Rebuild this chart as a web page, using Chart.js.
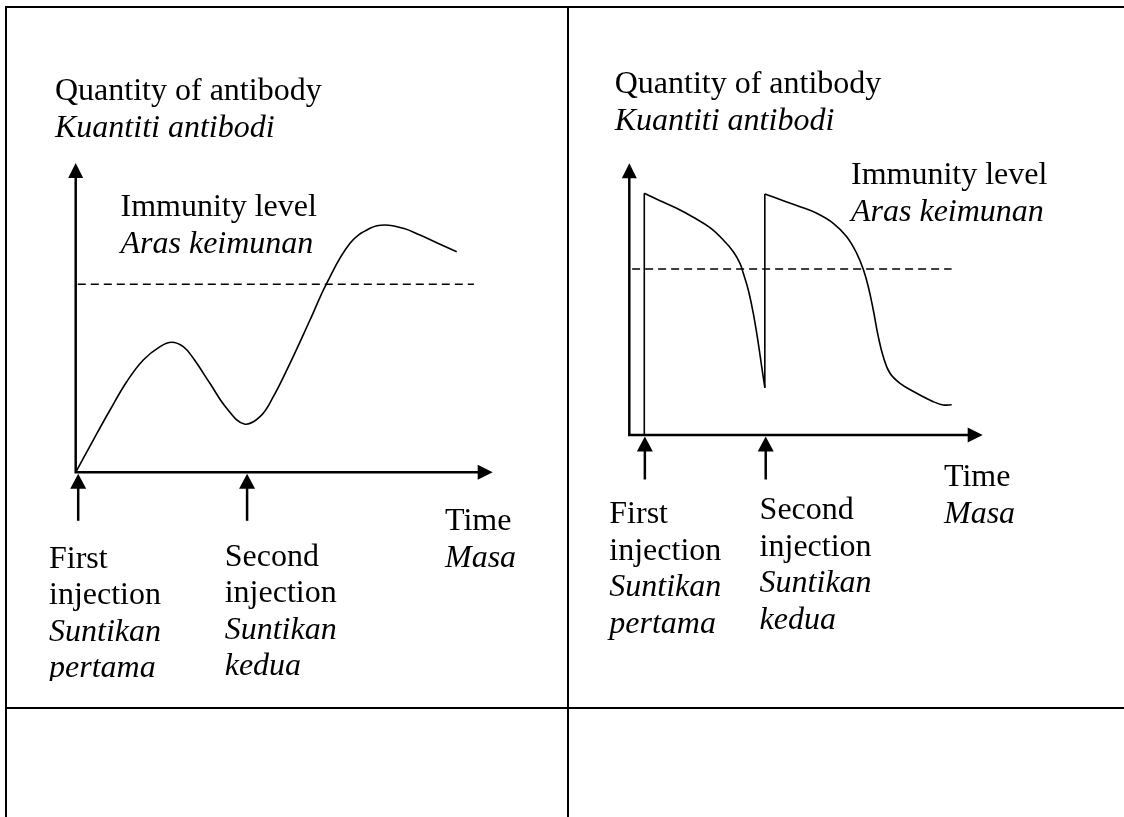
<!DOCTYPE html>
<html>
<head>
<meta charset="utf-8">
<title>Antibody response</title>
<script src="https://cdn.jsdelivr.net/npm/chart.js@4.4.1/dist/chart.umd.min.js"></script>
<style>
  html, body { margin: 0; padding: 0; background: #fff; }
  body { width: 1124px; height: 817px; position: relative; overflow: hidden;
         font-family: "Liberation Serif", "Times New Roman", serif; color: #000; }
  .rule { position: absolute; background: #000; }
  .panel { position: absolute; top: 0; overflow: hidden; }
  .panel canvas { position: absolute; left: 0; top: 0; }
  .lbl { position: absolute; font-size: 32px; line-height: 36.5px; white-space: nowrap; }
  .lbl .it { font-style: italic; }
</style>
</head>
<body>
<div class="panel" id="leftPanel" style="left:0;width:567px;height:681px;">
  <canvas id="leftChart" width="567" height="681"></canvas>
</div>
<div class="panel" id="rightPanel" style="left:568px;width:556px;height:707px;">
  <canvas id="rightChart" width="556" height="700"></canvas>
</div>
<div class="rule" style="left:5px;top:6px;width:1119px;height:2px;"></div>
<div class="rule" style="left:5px;top:6px;width:2px;height:811px;"></div>
<div class="rule" style="left:567px;top:6px;width:2px;height:811px;"></div>
<div class="rule" style="left:5px;top:707px;width:1119px;height:2px;"></div>

<script>
// ---------- text ----------
const yAxisLabel = ["Quantity of antibody", "Kuantiti antibodi"];
const immunityLabel = ["Immunity level", "Aras keimunan"];
const xAxisLabel = ["Time", "Masa"];
const firstInjectionLabel = ["First", "injection", "Suntikan", "pertama"];
const secondInjectionLabel = ["Second", "injection", "Suntikan", "kedua"];

// ---------- left graph (time 0-100, antibody 0-100) ----------
const leftTime     = [0, 4.22, 8.23, 12.23, 16.21, 20.22, 23.02, 25.80, 28.20, 32.18, 36.21, 40.43,
                      44.20, 47.39, 51.39, 56.19, 60.19, 65.78, 70.58, 74.17, 78.56, 82.57, 86.57, 91.37];
const leftAntibody = [0, 10.44, 20.14, 29.29, 36.31, 40.61, 42.03, 40.61, 36.86, 28.77, 20.69, 15.62,
                      17.98, 24.44, 35.24, 49.24, 61.11, 74.04, 78.89, 79.95, 78.89, 76.72, 74.23, 71.32];
const leftImmunityLevel = 60.8;
const leftImmunitySpan = [0.5, 95.5];
const leftInjections = [0.6, 41.1];

// ---------- right graph ----------
const rightTime1     = [4.24, 8.69, 13.41, 18.11, 22.84, 26.60, 29.43, 31.32, 32.26, 33.67, 35.09, 36.50, 37.46, 38.35];
const rightAntibody1 = [88.96, 86.24, 83.44, 80.13, 76.30, 71.77, 67.46, 63.19, 59.51, 53.37, 44.79, 33.75, 25.14, 17.41];
const rightTime2     = [38.35, 43.58, 48.30, 53.03, 57.72, 61.52, 64.35, 66.21, 67.63, 69.04, 70.46, 71.87,
                        73.77, 76.60, 81.32, 86.02, 88.85, 91.23];
const rightAntibody2 = [88.70, 86.24, 84.03, 81.60, 77.92, 72.99, 66.88, 60.99, 54.58, 46.01, 36.18, 28.82,
                        22.71, 19.03, 15.35, 12.26, 11.04, 11.15];
const rightImmunityLevel = 61.1;
const rightImmunitySpan = [0.8, 91.2];
const rightInjections = [4.4, 38.6];

// ---------- helpers ----------
const zip = (xs, ys) => xs.map((x, i) => ({ x: x, y: ys[i] }));

function curveSet(points) {
  return { data: points, borderColor: '#000', borderWidth: 1.6, fill: false,
           tension: 0.4, pointRadius: 0, clip: false };
}
function straightSet(points) {
  return { data: points, borderColor: '#000', borderWidth: 1.6, fill: false,
           tension: 0, pointRadius: 0, clip: false };
}
function dashedSet(level, span) {
  return { data: [{ x: span[0], y: level }, { x: span[1], y: level }],
           borderColor: '#000', borderWidth: 1.5, borderDash: [8, 5], fill: false,
           tension: 0, pointRadius: 0, clip: false };
}

function axesPlugin(injections, tail) {
  return {
    id: 'axesArrows',
    afterDatasetsDraw(chart) {
      const ctx = chart.ctx;
      const a = chart.chartArea;
      const head = 15, half = 7.5;
      ctx.save();
      ctx.strokeStyle = '#000';
      ctx.fillStyle = '#000';
      ctx.lineWidth = 2.5;
      ctx.lineCap = 'butt';
      ctx.beginPath();
      ctx.moveTo(a.left, a.top + head - 1);
      ctx.lineTo(a.left, a.bottom + 1.25);
      ctx.moveTo(a.left - 1.25, a.bottom);
      ctx.lineTo(a.right - head + 1, a.bottom);
      ctx.stroke();
      ctx.beginPath();
      ctx.moveTo(a.left, a.top);
      ctx.lineTo(a.left - half, a.top + head);
      ctx.lineTo(a.left + half, a.top + head);
      ctx.closePath();
      ctx.fill();
      ctx.beginPath();
      ctx.moveTo(a.right, a.bottom);
      ctx.lineTo(a.right - head, a.bottom - half);
      ctx.lineTo(a.right - head, a.bottom + half);
      ctx.closePath();
      ctx.fill();
      injections.forEach(t => {
        const x = chart.scales.x.getPixelForValue(t);
        const tip = a.bottom + 1.5;
        ctx.beginPath();
        ctx.moveTo(x, tip + head - 1);
        ctx.lineTo(x, tip + tail);
        ctx.stroke();
        ctx.beginPath();
        ctx.moveTo(x, tip);
        ctx.lineTo(x - 8, tip + head);
        ctx.lineTo(x + 8, tip + head);
        ctx.closePath();
        ctx.fill();
      });
      ctx.restore();
    }
  };
}

function makeChart(id, padding, datasets, injections, tail) {
  return new Chart(document.getElementById(id), {
    type: 'line',
    data: { datasets: datasets },
    options: {
      responsive: false,
      animation: false,
      events: [],
      layout: { padding: padding },
      plugins: { legend: { display: false }, tooltip: { enabled: false }, title: { display: false } },
      scales: {
        x: { type: 'linear', min: 0, max: 100, display: false },
        y: { type: 'linear', min: 0, max: 100, display: false }
      },
      elements: { point: { radius: 0 }, line: { capBezierPoints: false } }
    },
    plugins: [axesPlugin(injections, tail)]
  });
}

makeChart('leftChart',
  { left: 75.7, right: 567 - 492.7, top: 163, bottom: 681 - 472.3 },
  [ curveSet(zip(leftTime, leftAntibody)),
    dashedSet(leftImmunityLevel, leftImmunitySpan) ],
  leftInjections, 47);

const r1 = zip(rightTime1, rightAntibody1);
const r2 = zip(rightTime2, rightAntibody2);
makeChart('rightChart',
  { left: 629.3 - 568, right: 556 - (982.7 - 568), top: 163.3, bottom: 700 - 435 },
  [ straightSet([{ x: r1[0].x, y: 0 }, r1[0]]),
    curveSet(r1),
    straightSet([r1[r1.length - 1], r2[0]]),
    curveSet(r2),
    dashedSet(rightImmunityLevel, rightImmunitySpan) ],
  rightInjections, 43);

function addLabel(panelId, lines, italicFrom, left, top) {
  const d = document.createElement('div');
  d.className = 'lbl';
  d.style.left = left + 'px';
  d.style.top = top + 'px';
  lines.forEach((t, i) => {
    const s = document.createElement('div');
    if (i >= italicFrom) s.className = 'it';
    s.textContent = t;
    d.appendChild(s);
  });
  document.getElementById(panelId).appendChild(d);
}
addLabel('leftPanel', yAxisLabel, 1, 55, 71);
addLabel('leftPanel', immunityLabel, 1, 120.5, 187);
addLabel('leftPanel', xAxisLabel, 1, 445, 501);
addLabel('leftPanel', firstInjectionLabel, 2, 49, 538.6);
addLabel('leftPanel', secondInjectionLabel, 2, 224.7, 536.6);
addLabel('rightPanel', yAxisLabel, 1, 46.7, 64);
addLabel('rightPanel', immunityLabel, 1, 283, 155);
addLabel('rightPanel', xAxisLabel, 1, 376, 457);
addLabel('rightPanel', firstInjectionLabel, 2, 41.3, 494);
addLabel('rightPanel', secondInjectionLabel, 2, 191.6, 490);
</script>
</body>
</html>
